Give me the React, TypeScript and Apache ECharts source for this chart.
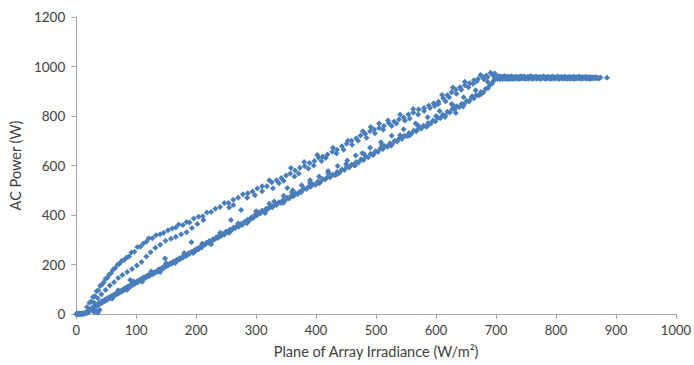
import React, { useEffect, useRef } from "react";
import * as echarts from "echarts";

const xTicks = [0, 100, 200, 300, 400, 500, 600, 700, 800, 900, 1000];
const yTicks = [0, 200, 400, 600, 800, 1000, 1200];

const lowerBand: number[][] = [
[0,0],[1,0],[2,1],[3,0],[4,2],[5,0],[6,1],[7,0],[8,2],[9,0],[10,1],[11,3],[12,0],[13,2],[14,4],[15,2],[16,6],[17,4],[18,8],[19,6],
[20,12],[21,9],[22,16],[23,13],[24,19],[25,17],[26,23],[27,21],[28,27],[29,24],[30,31],[31,28],[32,33],[33,31],[34,36],[35,34],[36,40],[37,37],[38,43],[39,40],[40,46],[41,42],[42,49],[43,46],[44,52],[45,49],[46,55],[47,52],[48,58],[49,55],[50,61],[51,57],[53,65],[54,62],[56,69],[57,66],[59,73],[60,70],[62,77],[63,74],[65,81],[66,78],[68,85],[69,82],[71,89],[72,86],[74,92],[75,90],[77,97],[78,94],[80,102],[81,98],[83,106],[85,104],[86,111],[88,108],[90,116],[91,112],[93,120],[95,118],[96,125],[98,122],[100,130],[102,127],[104,135],[106,133],[108,141],[110,138],[112,147],[114,144],[116,152],[118,149],[120,158],[122,154],[125,163],[127,160],[129,168],[131,166],[134,173],[136,171],[138,181],[140,178],[143,187],[145,184],[147,194],[150,192],[152,200],[154,197],[157,205],[159,203],[162,212],[164,209],[167,218],[169,216],[172,225],[174,222],[177,231],[179,229],[182,238],[184,235],[187,245],[189,243],[192,251],[194,249],[197,258],[199,255],[202,265],[204,262],[207,272],[209,269],[212,278],[215,281],[217,288],[220,287],[222,295],[225,293],[228,302],[230,300],[233,309],[236,307],[238,316],[241,314],[244,323],[247,321],[250,333],[253,330],[256,340],[259,338],[262,348],[265,346],[268,356],[271,353],[274,364],[277,361],[280,372],[283,370],[286,382],[289,379],[292,390],[295,388],[298,400],[301,398],[304,410],[307,406],[310,418],[314,415],[317,426],[320,424],[324,434],[327,431],[331,442],[334,440],[338,452],[341,449],[345,461],[348,458],[352,470],[355,467],[359,479],[362,476],[366,487],[369,484],[373,495],[377,499],[380,507],[384,505],[388,515],[391,514],[395,524],[399,522],[403,535],[407,532],[411,545],[415,543],[419,554],[423,552],[427,564],[431,561],[435,574],[439,571],[443,584],[447,582],[451,594],[455,592],[459,604],[463,602],[467,614],[471,612],[475,625],[479,622],[483,636],[487,633],[491,647],[495,644],[499,658],[503,655],[507,669],[511,666],[515,679],[519,676],[523,690],[527,687],[531,700],[535,697],[539,710],[543,707],[547,720],[551,718],[555,731],[559,728],[563,741],[567,738],[571,751],[575,748],[579,761],[583,758],[587,772],[591,769],[595,782],[599,779],[603,793],[607,791],[611,805],[615,802],[619,817],[623,814],[627,828],[631,826],[635,839],[639,836],[643,850],[647,848],[651,861],[655,859],[659,873],[663,871],[667,885],[671,883],[675,897],[679,896],[683,910],[687,913],[690,925],[693,930],[696,942],[698,950],[700,958]
];

const lowerEdge: number[][] = [
[60,62],[70,96],[85,98],[95,132],[110,130],[125,172],[140,170],[150,205],[165,206],[180,246],[195,246],[210,285],[225,282],[240,328],[255,328],[270,366],[285,368],[300,415],[315,408],[330,455],[345,448],[360,492],[375,492],[390,530],[405,528],[420,570],[435,565],[450,606],[465,600],[480,646],[495,642],[510,684],[525,680],[540,722],[555,720],[570,762],[585,758],[600,800],[615,796],[630,840],[645,838],[660,880],[675,888]
];

const midCloud: number[][] = [
[322,445],[346,478],[361,500],[376,520],[390,540],[405,556],[420,578],[436,598],[452,620],[466,640],[477,650],[490,672],[508,694],[526,720],[546,746],[566,770],[586,795],[606,820],[633,812],[626,848],[646,876],[666,904],[686,938]
];

const upperBand: number[][] = [
[18,28],[22,45],[25,50],[28,69],[31,72],[34,92],[37,96],[40,114],[43,118],[46,128],[49,142],[52,146],[55,160],[58,165],[61,178],[65,186],[69,200],[72,203],[76,215],[80,218],[84,228],[88,232],[92,248],[97,252],[102,271],[107,272],[112,285],[117,292],[121,306],[127,306],[133,318],[140,322],[146,328],[153,338],[160,345],[166,350],[171,362],[178,360],[184,372],[189,370],[196,386],[204,393],[211,395],[218,410],[225,412],[232,425],[240,432],[247,448],[254,448],[262,462],[270,470],[278,484],[286,488],[294,495],[302,507],[310,516],[318,516],[326,532],[334,540],[342,550],[350,560],[357,568],[365,580],[373,591],[381,598],[389,610],[397,618],[404,632],[411,636],[419,644],[427,656],[435,664],[443,678],[451,688],[459,700],[467,710],[474,721],[482,728],[490,738],[497,745],[505,752],[513,760],[521,772],[530,778],[538,786],[546,794],[554,806],[562,814],[571,826],[580,832],[588,842],[596,852],[604,858],[612,872],[619,884],[626,896],[633,906],[640,916],[648,924],[656,932],[663,944],[670,950],[677,960],[684,964],[691,975],[695,969]
];

const upperScatter: number[][] = [
[255,430],[262,440],[285,470],[298,480],[310,496],[322,540],[328,508],[338,528],[346,538],[358,590],[364,556],[371,568],[380,614],[387,588],[396,600],[402,642],[409,618],[416,630],[428,672],[434,648],[446,664],[453,700],[460,684],[470,700],[478,738],[484,712],[491,756],[498,730],[505,770],[512,744],[520,782],[526,760],[534,770],[540,806],[548,782],[556,790],[562,828],[570,806],[580,820],[590,832],[598,840],[604,848],[610,885],[616,860],[622,876],[628,915],[634,890],[642,906],[648,938],[654,916],[662,930],[668,940],[674,966],[680,948],[686,958]
];

const middleBand: number[][] = [
[30,45],[36,64],[42,80],[49,97],[56,115],[63,128],[70,145],[77,158],[85,170],[93,182],[101,196],[109,210],[117,232],[124,250],[132,268],[140,280],[149,296],[158,304],[166,312],[175,322],[184,330],[193,347],[202,364],[212,380]
];

const outliers: number[][] = [
[90,137],[148,224],[192,290],[258,380],[275,420],[352,509],[30,8],[33,14],[39,16],[36,5]
];

const plateau: number[][] = [
[700,962],[701,955],[702,950],[703,958],[704,953],[705,961],[706,948],[707,956],[708,952],[709,960],[710,955],[711,949],[712,958],[713,953],[714,962],[715,951],[716,957],[717,954],[718,960],[719,950],[720,956],[721,952],[722,959],[723,955],[724,949],[725,957],[726,961],[727,953],[728,956],[729,950],[730,958],[732,954],[733,960],[734,951],[735,956],[737,953],[738,959],[739,949],[741,955],[742,961],[743,952],[745,957],[746,954],[747,960],[749,950],[750,956],[752,953],[753,959],[754,951],[756,957],[757,955],[758,962],[760,949],[761,955],[763,958],[764,952],[765,956],[767,960],[768,951],[770,957],[771,954],[773,959],[774,950],[776,956],[777,953],[779,961],[780,955],[782,950],[783,957],[785,952],[786,959],[788,954],[789,956],[791,950],[792,958],[794,953],[795,960],[797,955],[798,951],[800,957],[802,953],[803,960],[805,950],[806,956],[808,954],[809,959],[811,951],[812,957],[814,953],[815,960],[817,955],[818,950],[820,957],[821,953],[823,959],[824,951],[826,956],[827,954],[829,960],[830,950],[832,957],[833,953],[835,958],[836,952],[838,956],[839,960],[841,951],[842,955],[844,958],[845,952],[847,957],[848,954],[850,959],[851,951],[853,956],[854,953],[856,958],[857,950],[859,955],[860,957],[862,952],[863,956],[865,954],[866,958],[868,953],[870,955],[872,952],[874,956],[885,955],[695,966],[698,972],[697,960]
];

const allPoints = [
  ...lowerBand, ...lowerEdge, ...midCloud, ...upperBand, ...upperScatter, ...middleBand, ...outliers, ...plateau,
];

const FONT = "Lato, 'Open Sans', sans-serif";
const LABEL_COLOR = "#404040";
const AXIS_COLOR = "#A6A6A6";

export default function App() {
  const ref = useRef<HTMLDivElement>(null);
  useEffect(() => {
    if (!ref.current) return;
    const chart = echarts.init(ref.current, undefined, { renderer: "svg" });
    chart.setOption({
      animation: false,
      backgroundColor: "#ffffff",
      grid: { left: 73, right: 13, top: 17, bottom: 51, containLabel: false },
      xAxis: {
        type: "value",
        min: xTicks[0],
        max: xTicks[xTicks.length - 1],
        interval: 100,
        name: "Plane of Array Irradiance (W/m²)",
        nameLocation: "middle",
        nameGap: 30,
        nameTextStyle: { color: LABEL_COLOR, fontSize: 14.5, fontFamily: FONT },
        axisLine: { show: true, lineStyle: { color: AXIS_COLOR, width: 1 } },
        axisTick: { show: true, inside: false, length: 5, lineStyle: { color: AXIS_COLOR } },
        axisLabel: { color: LABEL_COLOR, fontSize: 13, fontFamily: FONT, margin: 9, formatter: (v: number) => String(v) },
        splitLine: { show: false },
      },
      yAxis: {
        type: "value",
        min: yTicks[0],
        max: yTicks[yTicks.length - 1],
        interval: 200,
        name: "AC Power (W)",
        nameLocation: "middle",
        nameRotate: 90,
        nameGap: 49,
        nameTextStyle: { color: LABEL_COLOR, fontSize: 14.5, fontFamily: FONT },
        axisLine: { show: true, lineStyle: { color: AXIS_COLOR, width: 1 } },
        axisTick: { show: true, inside: false, length: 5, lineStyle: { color: AXIS_COLOR } },
        axisLabel: { color: LABEL_COLOR, fontSize: 13.5, fontFamily: FONT, margin: 11, formatter: (v: number) => String(v) },
        splitLine: { show: false },
      },
      series: [
        {
          type: "scatter",
          data: allPoints,
          symbol: "diamond",
          symbolSize: 6,
          itemStyle: { color: "#4A7EBB", opacity: 1 },
        },
      ],
    });
    return () => chart.dispose();
  }, []);
  return <div ref={ref} style={{ position: "absolute", left: 0, top: 0, width: 694, height: 365 }} />;
}
